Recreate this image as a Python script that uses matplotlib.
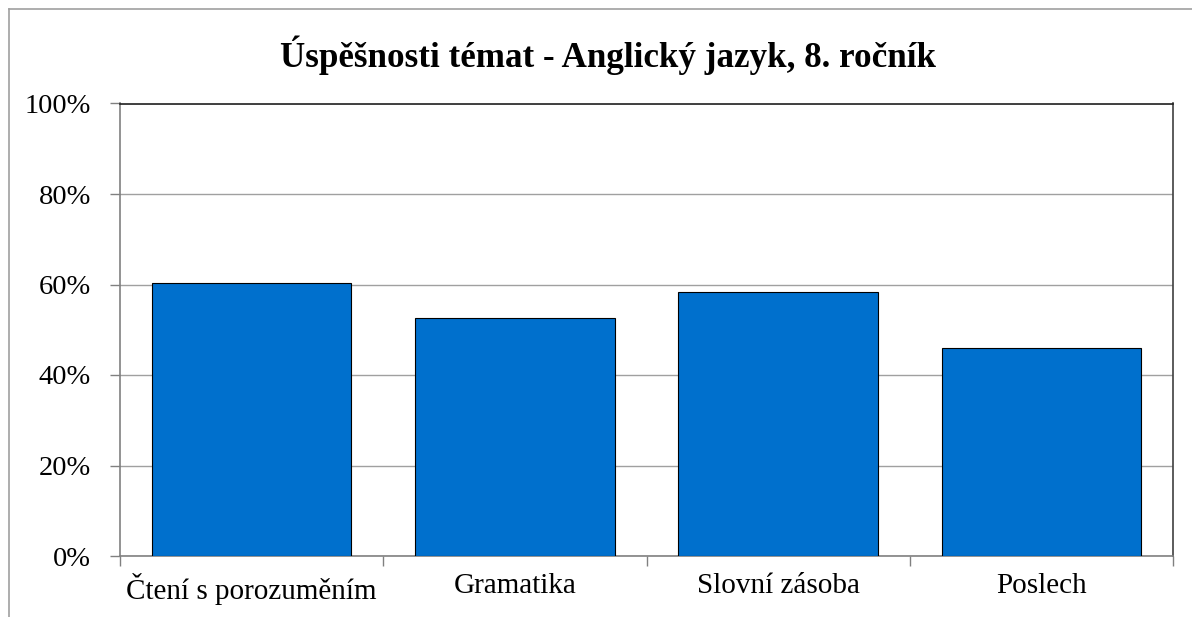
import matplotlib
matplotlib.use('Agg')
import matplotlib.pyplot as plt
from matplotlib.lines import Line2D
from matplotlib.ticker import FuncFormatter

categories = ["Čtení s porozuměním", "Gramatika", "Slovní zásoba", "Poslech"]
values = [60.3, 52.6, 58.3, 45.9]
y_ticks = [0, 20, 40, 60, 80, 100]
TITLE = "Úspěšnosti témat - Anglický jazyk, 8. ročník"
BAR_COLOR = "#0070CD"

plt.rcParams['font.family'] = ['Liberation Serif', 'DejaVu Serif']

fig = plt.figure(figsize=(11.92, 6.17), dpi=100)
ax = fig.add_axes([120 / 1192, 1 - 556 / 617, (1173 - 120) / 1192, (556 - 103.5) / 617])

x = list(range(len(categories)))
ax.bar(x, values, width=0.757, color=BAR_COLOR, edgecolor="black", linewidth=0.8, zorder=3)

ax.set_xlim(-0.5, len(categories) - 0.5)
ax.set_ylim(0, 100)
ax.set_yticks(y_ticks)
ax.yaxis.set_major_formatter(FuncFormatter(lambda v, p: f"{v:.0f}%"))
ax.grid(axis='y', color="#A0A0A0", linewidth=1, zorder=0)

# category boundary ticks on x axis
ax.set_xticks([i - 0.5 for i in range(len(categories) + 1)])
ax.set_xticklabels([])
ax.set_xticks(x, minor=True)
ax.set_xticklabels(categories, minor=True, fontsize=21)
ax.tick_params(axis='x', which='minor', length=0, pad=12)
ax.tick_params(axis='x', which='major', length=7, color="#808080", width=1)
ax.tick_params(axis='y', length=7, color="#808080", width=1, labelsize=20.5, pad=14)

ax.spines['left'].set_color("#808080")
ax.spines['bottom'].set_color("#808080")
ax.spines['top'].set_color("#202020")
ax.spines['right'].set_color("#404040")
for s in ax.spines.values():
    s.set_linewidth(1.2)

fig.text(608 / 1192, 1 - 55 / 617, TITLE, ha='center', va='center',
         fontsize=25.2, fontweight='bold')

# outer chart frame (cropped on right and bottom)
fig.add_artist(Line2D([9 / 1192, 9 / 1192], [0, 1 - 9 / 617], color="#A0A0A0", linewidth=1.2, transform=fig.transFigure))
fig.add_artist(Line2D([9 / 1192, 1], [1 - 9 / 617, 1 - 9 / 617], color="#A0A0A0", linewidth=1.2, transform=fig.transFigure))

fig.savefig("out.png", dpi=100)
